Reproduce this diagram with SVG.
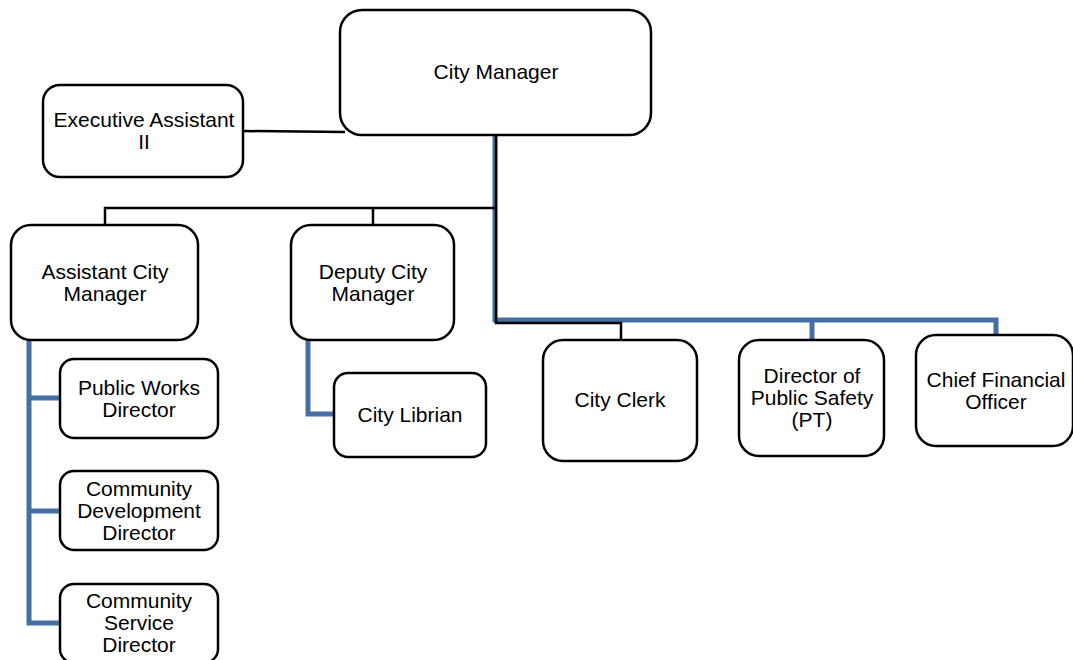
<svg xmlns="http://www.w3.org/2000/svg" width="1073" height="660" viewBox="0 0 1073 660">
<style>
.box{fill:#fff;stroke:#000;stroke-width:2.5}
.t{font-family:"Liberation Sans",Arial,sans-serif;font-size:21px;fill:#000;text-anchor:middle}
.k{fill:none;stroke:#000;stroke-width:2.5}
.b{fill:none;stroke:#4470a5;stroke-width:5}
</style>
<rect width="1073" height="660" fill="#fff"/>
<g id="connectors">
<path class="b" d="M495 135 V320 H996 V335"/>
<path class="b" d="M812 320 V340"/>
<path class="k" d="M496 135 V323 H621 V340"/>
<path class="k" d="M243 131 L345 132"/>
<path class="k" d="M496 208 H105 V225 M373 208 V225"/>
<path class="b" d="M29 340 V623 H60 M29 398 H60 M29 511 H60"/>
<path class="b" d="M308 340 V414 H334"/>
</g>
<g id="city-manager"><rect class="box" x="340" y="10" width="311" height="125" rx="22"/><text class="t" x="496" y="79">City Manager</text></g>
<g id="exec-assistant"><rect class="box" x="43" y="85" width="200" height="92" rx="17"/><text class="t" x="144" y="127">Executive Assistant</text><text class="t" x="144" y="149">II</text></g>
<g id="assistant-cm"><rect class="box" x="11" y="225" width="187" height="115" rx="20"/><text class="t" x="105" y="279">Assistant City</text><text class="t" x="105" y="301">Manager</text></g>
<g id="deputy-cm"><rect class="box" x="291" y="225" width="163" height="115" rx="20"/><text class="t" x="373" y="279">Deputy City</text><text class="t" x="373" y="301">Manager</text></g>
<g id="city-clerk"><rect class="box" x="543" y="340" width="154" height="121" rx="20"/><text class="t" x="620" y="407">City Clerk</text></g>
<g id="public-safety"><rect class="box" x="739" y="340" width="145" height="116" rx="20"/><text class="t" x="812" y="383">Director of</text><text class="t" x="812" y="405">Public Safety</text><text class="t" x="812" y="427">(PT)</text></g>
<g id="cfo"><rect class="box" x="916" y="335" width="157" height="111" rx="20"/><text class="t" x="996" y="387">Chief Financial</text><text class="t" x="996" y="409">Officer</text></g>
<g id="public-works"><rect class="box" x="60" y="359" width="158" height="79" rx="14"/><text class="t" x="139" y="395">Public Works</text><text class="t" x="139" y="417">Director</text></g>
<g id="community-dev"><rect class="box" x="60" y="471" width="158" height="79" rx="14"/><text class="t" x="139" y="496">Community</text><text class="t" x="139" y="518">Development</text><text class="t" x="139" y="540">Director</text></g>
<g id="community-service"><rect class="box" x="60" y="584" width="158" height="79" rx="14"/><text class="t" x="139" y="608">Community</text><text class="t" x="139" y="630">Service</text><text class="t" x="139" y="652">Director</text></g>
<g id="city-librian"><rect class="box" x="334" y="373" width="152" height="84" rx="14"/><text class="t" x="410" y="422">City Librian</text></g>
</svg>
